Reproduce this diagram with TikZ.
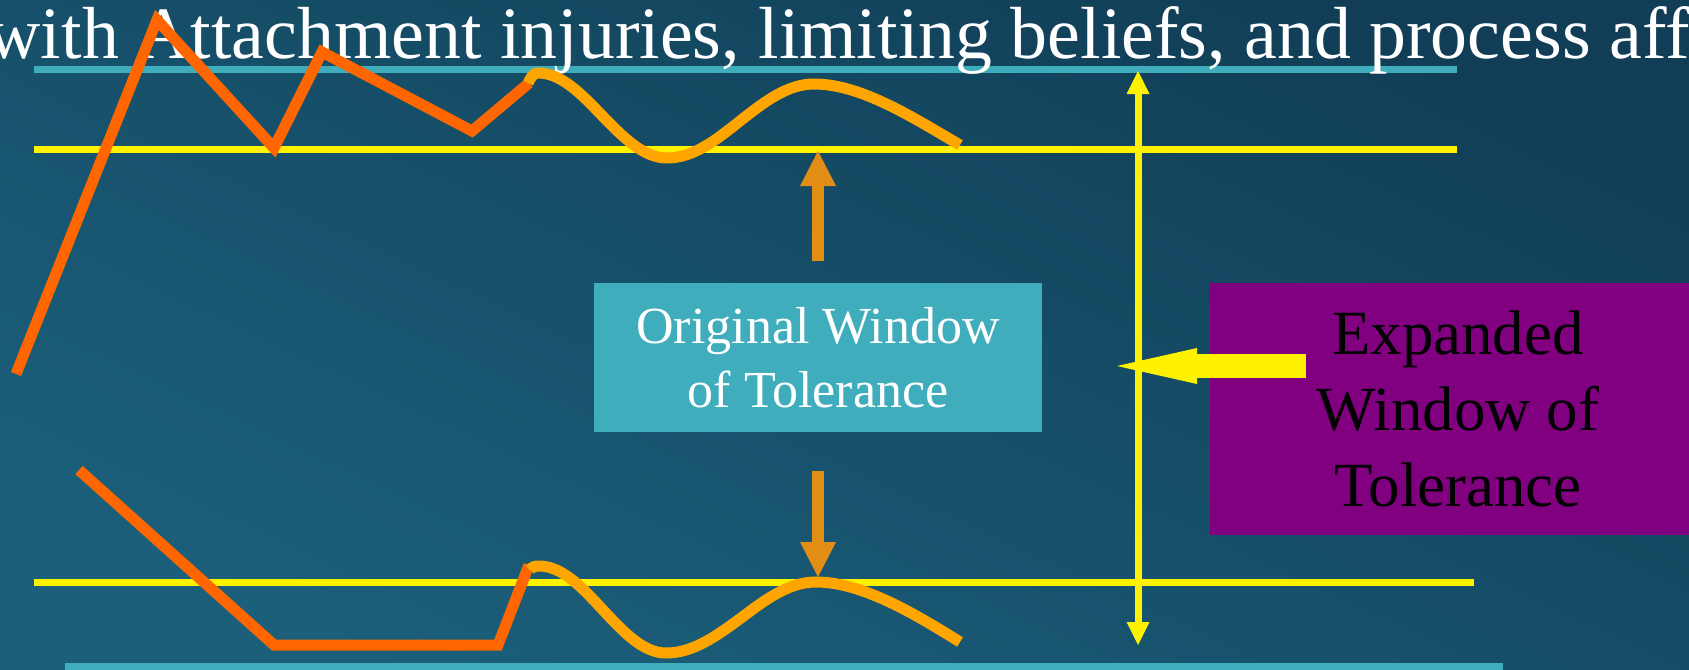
\documentclass[tikz,border=0pt]{standalone}
\usepackage{fontspec}
\setmainfont{Liberation Serif}
\usetikzlibrary{arrows.meta}
\definecolor{bgtop}{RGB}{17,62,86}
\definecolor{bgbottom}{RGB}{27,95,123}
\definecolor{tealline}{RGB}{64,173,189}
\definecolor{fireorange}{RGB}{255,102,0}
\definecolor{waveorange}{RGB}{255,165,0}
\definecolor{arroworange}{RGB}{226,141,20}
\definecolor{boxpurple}{RGB}{128,0,128}

\begin{document}
\begin{tikzpicture}[
    guide/.style={line width=0.07cm},
    track/.style={fireorange, line width=0.11cm},
    wave/.style={waveorange, line width=0.11cm},
    shift arrow/.style={arroworange, line width=0.12cm, -{Triangle[length=0.35cm,width=0.36cm,line width=0pt]}},
    rangebar/.style={yellow, line width=0.07cm, >={Triangle[length=0.23cm,width=0.23cm,line width=0pt]}, <->},
  ]
  \useasboundingbox (0,0) rectangle (16.89,6.69);
  \clip (0,0) rectangle (16.89,6.69);
  \shade[top color=bgtop, bottom color=bgbottom, shading angle=-25] (0,0) rectangle (16.89,6.69);

  \coordinate (upperlimit) at (0.34,5.20);
  \coordinate (lowerlimit) at (0.34,0.87);
  \draw[guide, tealline] (0.34,6.00) -- (14.57,6.00);
  \draw[guide, yellow] (upperlimit) -- (14.57,5.20);
  \draw[guide, yellow] (lowerlimit) -- (14.74,0.87);
  \draw[guide, tealline] (0.65,0.03) -- (15.03,0.03);

  \node[anchor=base west, inner sep=0pt, white, font=\fontsize{21}{25}\selectfont] (title) at (-0.13,6.10)
    {with Attachment injuries, limiting beliefs, and process aff};

  \draw[track] (0.16,2.95) -- (1.57,6.49) -- (2.74,5.21) -- (3.22,6.17) -- (4.72,5.38) -- (5.29,5.86);
  \draw[track] (0.79,1.99) -- (2.74,0.24) -- (4.98,0.24) -- (5.29,1.04);

  \draw[wave] (5.28,5.86) to[out=60,in=180] (5.38,5.96) cos (6.02,5.535) sin (6.67,5.11)
    cos (7.40,5.48) sin (8.14,5.85) .. controls (8.62,5.85) and (9.15,5.50) .. (9.60,5.24);
  \draw[wave] (5.30,0.99) to[out=60,in=180] (5.39,1.03) cos (6.03,0.59) sin (6.66,0.16)
    cos (7.41,0.51) sin (8.16,0.87) .. controls (8.62,0.87) and (9.15,0.55) .. (9.60,0.27);

  \node[fill=tealline, minimum width=4.48cm, minimum height=1.49cm, text=white, align=center,
    font=\fontsize{14.8}{18.2}\selectfont] (orig) at (8.18,3.115) {Original Window\\of Tolerance};
  \node[fill=boxpurple, minimum width=4.96cm, minimum height=2.52cm, align=center,
    font=\fontsize{17.9}{21.6}\selectfont] (expanded) at (14.58,2.60) {Expanded\\Window of\\Tolerance};

  \draw[shift arrow, shorten <=0.21cm, shorten >=0.02cm] (orig.north) -- (orig.north |- upperlimit);
  \draw[shift arrow, shorten <=0.38cm, shorten >=0.05cm] (orig.south) -- (orig.south |- lowerlimit);

  \coordinate (rangetop) at (11.38,5.98);
  \coordinate (rangebottom) at (11.38,0.24);
  \coordinate (pointer) at (13.06,3.03);
  \draw[rangebar] (rangetop) -- (rangebottom);
  \draw[yellow, line width=0.24cm, -{Triangle[length=0.8cm,width=0.36cm,line width=0pt]}] (pointer) -- (11.17,3.03);
\end{tikzpicture}
\end{document}
